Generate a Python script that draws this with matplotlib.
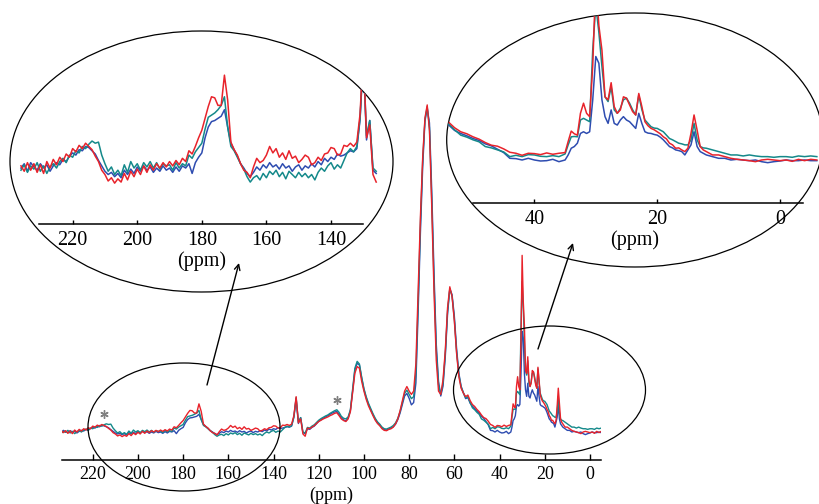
import numpy as np
import matplotlib
matplotlib.use("Agg")
import matplotlib.pyplot as plt
from matplotlib.patches import Ellipse

plt.rcParams["font.family"] = ["Liberation Serif", "DejaVu Serif"]

RED = "#e8232b"
TEAL = "#14898a"
BLUE = "#2e4cb0"

# ---------------------------------------------------------------------------
# Spectra (intensity, % of the 72 ppm peak)
# ---------------------------------------------------------------------------
PPM_A = list(range(236, 125, -1))          # 236 ... 126
PPM_B = list(range(125, 55, -1))           # 125 ... 56
PPM_C = [55, 54, 53, 52, 51, 50, 49, 48, 47, 46, 45, 44, 43, 42, 41, 40, 39, 38, 37, 36, 35,
         34.5, 34, 33.5, 33, 32.5, 32, 31.5, 31, 30.5, 30,
         29.5, 29, 28.5, 28, 27.5, 27, 26.5, 26, 25.5, 25,
         24.5, 24, 23.5, 23, 22.5, 22, 21.5, 21, 20.5, 20,
         19.5, 19, 18.5, 18, 17.5, 17, 16.5, 16, 15.5, 15,
         14.5, 14, 13.5, 13, 12.5,
         12, 11, 10, 9, 8, 7, 6, 5, 4, 3,
         2, 1, 0, -1, -2, -3, -4, -5, -6]

RED_A = [0.2, -0.3, 0.5, -0.2, 0.4, -0.4, 0.3, -0.5, 0.6, 0.0,
         0.8, 0.3, 1.0, 0.6, 1.3, 1.0, 1.8, 1.5, 2.1, 1.8,
         2.3, 2.0, 1.7, 1.1, 0.6, -0.2, -0.6, -1.2, -0.9, -1.4,
         -1.0, -1.3, -0.5, -1.1, -0.3, -0.8, -0.1, -0.6, 0.2, -0.4,
         0.3, -0.2, 0.4, 0.0, 0.5, 0.1, 0.6, 0.2, 0.7, 0.3,
         0.9, 0.6, 1.6, 1.3, 2.0, 2.8, 3.5, 4.6, 5.7, 6.6,
         6.5, 5.8, 5.8, 8.6, 6.3, 2.4, 1.7, 1.2, 0.4, -0.2,
         -0.4, -0.9, 0.1, 0.9, 0.5, 0.7, 1.2, 2.0, 1.4, 1.8,
         1.0, 1.4, 0.8, 1.6, 0.9, 1.1, 0.5, 0.8, 1.2, 1.0,
         0.3, 0.5, 1.0, 0.7, 1.3, 1.4, 1.9, 1.8, 1.2, 1.3,
         2.1, 2.0, 2.3, 2.0, 2.4, 5.0, 10.8, 2.8, 4.0, -0.6,
         -1.3]
TEAL_A = [-0.2, 0.3, -0.4, 0.2, -0.1, 0.5, -0.3, 0.2, -0.5, 0.1,
          0.4, 0.0, 0.6, 0.9, 0.5, 1.2, 1.0, 1.6, 1.4, 2.0,
          1.8, 2.2, 2.5, 2.3, 2.4, 1.2, 0.4, -0.3, 0.1, -0.6,
          -0.2, -0.7, 0.3, -0.4, 0.6, 0.0, 0.4, -0.2, 0.5, 0.1,
          0.6, 0.0, 0.5, -0.1, 0.4, 0.2, 0.3, -0.2, 0.5, 0.0,
          0.4, 0.2, 1.2, 0.9, 1.5, 1.9, 2.3, 3.6, 4.7, 4.9,
          5.1, 5.4, 5.8, 6.6, 3.8, 2.0, 1.6, 1.0, 0.4, -0.1,
          -0.8, -1.3, -0.9, -0.7, -1.1, -0.5, -0.9, -0.3, -0.6, -0.2,
          -0.8, -0.4, -1.0, -0.3, -0.6, -0.9, -0.4, -0.8, -0.5, -0.9,
          -0.6, -1.1, -0.4, 0.0, -0.3, 0.2, 0.5, -0.1, 0.3, 0.0,
          0.7, 1.4, 1.8, 1.5, 2.0, 4.6, 10.5, 3.0, 4.4, 0.0,
          -0.3]
BLUE_A = [0.0, 0.4, -0.3, 0.5, 0.1, -0.2, 0.4, 0.0, 0.3, -0.3,
          0.2, 0.5, 0.3, 0.8, 0.6, 1.1, 1.4, 1.2, 1.7, 1.6,
          2.0, 1.9, 1.6, 1.3, 0.7, 0.2, -0.3, -0.6, -0.4, -0.8,
          -0.5, -0.9, -0.2, -0.6, -0.1, -0.5, 0.1, -0.3, 0.2, -0.2,
          0.1, -0.4, 0.0, -0.3, 0.2, -0.2, 0.0, -0.4, 0.1, -0.3,
          0.2, 0.0, 0.4, -0.5, 0.5, 1.0, 1.4, 2.8, 3.8, 4.3,
          4.4, 4.6, 4.8, 5.4, 3.8, 2.3, 1.7, 1.1, 0.4, 0.0,
          -0.5, -0.8, -0.4, 0.1, -0.2, 0.3, 0.0, 0.5, 0.1, 0.3,
          -0.1, 0.4, 0.0, 0.2, -0.3, 0.1, 0.3, -0.2, 0.2, 0.0,
          0.4, 0.1, 0.6, 0.3, 0.9, 0.6, 1.0, 0.8, 1.3, 1.1,
          1.2, 1.4, 1.6, 1.5, 1.8, 4.5, 10.2, 2.6, 4.4, -0.2,
          -0.5]

RED_B = [1.2, 1.0, 1.5, 1.9, 2.6, 3.2, 3.6, 4.0, 4.3, 4.6,
         5.0, 5.3, 5.7, 5.9, 5.0, 4.0, 3.5, 3.2, 4.0, 6.2,
         12.0, 18.0, 20.0, 19.5, 15.5, 12.5, 10.0, 8.0, 6.5, 5.0,
         3.6, 2.6, 1.9, 1.0, 0.5, 0.4, 0.8, 1.0, 1.5, 2.5,
         4.0, 6.5, 9.5, 12.5, 13.9, 12.5, 11.5, 12.5, 21.0, 43.0,
         66.0, 84.0, 96.0, 100.0, 92.0, 69.0, 43.0, 22.0, 12.5, 11.5,
         16.0, 25.0, 38.0, 44.4, 41.4, 34.0, 24.0, 16.9, 13.4, 11.9]
TEAL_B = [1.4, 1.2, 1.8, 2.2, 2.9, 3.6, 4.1, 4.5, 4.9, 5.2,
          5.7, 6.1, 6.5, 6.8, 6.0, 4.8, 4.2, 4.0, 4.6, 6.8,
          13.0, 19.5, 21.6, 20.8, 16.8, 13.3, 10.8, 8.8, 7.2, 5.6,
          4.2, 3.1, 2.4, 1.5, 1.0, 0.9, 1.2, 1.5, 2.0, 2.8,
          4.2, 6.3, 9.0, 11.8, 12.8, 11.5, 10.2, 10.8, 18.0, 40.0,
          64.0, 83.0, 95.5, 99.5, 93.0, 71.0, 46.0, 25.0, 14.5, 11.5,
          15.0, 24.0, 37.0, 43.8, 41.5, 34.5, 24.5, 17.5, 13.8, 12.0]
BLUE_B = [1.0, 0.8, 1.4, 1.8, 2.5, 3.3, 3.7, 4.2, 4.6, 5.0,
          5.4, 5.8, 6.1, 6.3, 5.4, 4.3, 3.7, 3.4, 4.2, 6.5,
          12.5, 19.0, 21.0, 20.5, 16.5, 13.0, 10.5, 8.5, 6.8, 5.3,
          3.9, 2.8, 2.1, 1.3, 0.7, 0.6, 0.9, 1.2, 1.6, 2.4,
          3.8, 5.8, 8.4, 11.0, 11.8, 10.3, 8.3, 9.0, 15.0, 37.0,
          61.0, 81.0, 95.0, 99.0, 94.5, 74.0, 49.0, 27.0, 15.5, 11.0,
          14.0, 23.0, 36.0, 43.8, 42.0, 35.5, 25.5, 18.0, 14.0, 12.0]

RED_C = [10.8, 11.3, 9.6, 8.4, 7.8, 6.9, 6.2, 5.2, 4.4, 4.1, 3.3, 2.3, 2.0, 1.4, 2.0, 1.9, 1.6, 2.1, 1.7, 2.0, 2.2,
         5.5, 8.6, 7.8, 7.4, 13.9, 16.9, 13.9, 12.9, 28.0, 54.0,
         40.0, 32.7, 18.8, 17.9, 23.0, 15.9, 13.9, 14.9, 18.8, 18.4,
         16.4, 14.4, 13.4, 19.8, 15.9, 11.4, 10.2, 9.4, 9.0, 8.4,
         7.8, 6.9, 6.3, 5.0, 4.5, 3.5, 3.6, 3.0, 2.5, 3.5,
         7.9, 13.4, 8.9, 4.0, 3.0,
         2.5, 1.5, 1.5, 1.0, 0.5, 0.2, 0.0, -0.2, -0.5, 0.0,
         0.2, 0.0, -0.2, 0.0, -0.4, 0.2, -0.2, 0.2, 0.0]
TEAL_C = [10.5, 10.8, 9.0, 7.4, 6.8, 6.0, 5.4, 4.0, 3.6, 3.0, 2.4, 1.0, 1.4, 1.0, 1.6, 1.5, 1.1, 1.0, 1.3, 1.0, 1.8,
          4.5, 6.9, 7.0, 6.9, 11.9, 12.4, 11.9, 11.4, 32.7, 46.0,
          38.0, 27.8, 18.8, 17.4, 21.8, 14.9, 13.9, 15.4, 17.9, 18.4,
          16.9, 14.9, 13.4, 19.3, 15.0, 11.9, 10.9, 9.9, 9.5, 9.4,
          8.9, 8.4, 7.4, 6.4, 6.0, 5.5, 5.0, 4.8, 4.5, 4.5,
          6.0, 10.9, 6.0, 4.0, 3.6,
          3.5, 3.0, 2.5, 2.0, 1.5, 1.5, 1.2, 1.5, 1.2, 1.0,
          1.0, 0.8, 1.0, 1.0, 0.8, 1.2, 1.0, 1.2, 1.0]
BLUE_C = [10.2, 10.5, 8.8, 7.9, 7.2, 6.4, 5.8, 4.8, 4.2, 3.2, 2.2, 0.5, 0.4, 0.0, 0.5, 0.0, -0.3, -0.2, 0.2, -0.5, 0.0,
          1.5, 3.5, 4.0, 5.0, 7.9, 8.4, 7.9, 8.4, 17.9, 30.8,
          28.8, 17.9, 12.9, 10.9, 14.9, 10.9, 10.4, 11.9, 12.9, 11.9,
          11.4, 10.4, 9.4, 13.9, 10.9, 8.4, 8.0, 7.9, 7.6, 7.4,
          6.8, 6.0, 5.0, 4.0, 3.6, 3.0, 2.8, 2.5, 1.5, 3.0,
          4.5, 8.4, 4.0, 2.5, 2.0,
          1.5, 1.0, 0.5, 0.5, 0.0, 0.2, 0.0, -0.2, 0.0, -0.5,
          -0.8, -0.5, -0.3, 0.0, -0.2, -0.2, 0.0, -0.2, -0.2]

MAIN_TICKS = [220, 200, 180, 160, 140, 120, 100, 80, 60, 40, 20, 0]
LOW_TICKS = [220, 200, 180, 160, 140]
HIGH_TICKS = [40, 20, 0]
LOW_WINDOW = (125.5, 240)     # ppm range shown in the left zoom
HIGH_WINDOW = (-10, 55)       # ppm range shown in the right zoom
STARS = [(215, 5.5), (112, 9.8)]   # spinning side bands

ppm = np.array(PPM_A + PPM_B + PPM_C, dtype=float)
series = [
    (np.array(BLUE_A + BLUE_B + BLUE_C), BLUE),
    (np.array(TEAL_A + TEAL_B + TEAL_C), TEAL),
    (np.array(RED_A + RED_B + RED_C), RED),
]

# ---------------------------------------------------------------------------
# Layout helpers (pixel boxes -> figure fractions)
# ---------------------------------------------------------------------------
W, H = 820, 504


def box(x0, y0, x1, y1):
    return [x0 / W, 1 - y1 / H, (x1 - x0) / W, (y1 - y0) / H]


def only_bottom(ax):
    for side in ("left", "right", "top"):
        ax.spines[side].set_visible(False)
    ax.set_yticks([])


fig = plt.figure(figsize=(W / 100, H / 100), dpi=100)
fig.patch.set_facecolor("white")

# --- main spectrum ---
ax = fig.add_axes(box(62, 100, 601, 460))
ax.patch.set_visible(False)
for y, c in series:
    ax.plot(ppm, y, color=c, lw=1.0)
ax.set_xlim(233.6, -4.9)
ax.set_ylim(-8.56, 101.5)
only_bottom(ax)
ax.spines["bottom"].set_linewidth(1.1)
ax.set_xticks(MAIN_TICKS)
ax.tick_params(axis="x", direction="in", length=4, width=1, pad=4, labelsize=13)
ax.set_xlabel("(ppm)", fontsize=13, labelpad=3)
for sx, sy in STARS:
    ax.plot(sx, sy, marker=(6, 2, 0), ms=6, mew=1, color="0.5")


# --- insets inside ellipses ---
def inset(bbox, xlim, ylim, axis_y, bounds, ticks, window):
    a = fig.add_axes(box(*bbox))
    a.patch.set_visible(False)
    e = Ellipse((0.5, 0.5), 1, 1, transform=a.transAxes, fill=False,
                ec="black", lw=0.9, clip_on=False)
    a.add_patch(e)
    keep = (ppm >= window[0]) & (ppm <= window[1])
    for y, c in series:
        ln, = a.plot(ppm[keep], y[keep], color=c, lw=1.1)
        ln.set_clip_path(e)
    a.set_xlim(*xlim)
    a.set_ylim(*ylim)
    only_bottom(a)
    a.spines["bottom"].set_position(("data", axis_y))
    a.spines["bottom"].set_bounds(*bounds)
    a.spines["bottom"].set_linewidth(1.1)
    a.set_xticks(ticks)
    a.tick_params(axis="x", direction="in", length=3, width=1, pad=5, labelsize=14.5)
    a.set_xlabel("(ppm)", fontsize=14.5, labelpad=1)
    return a


inset((10, 31, 393, 292), (239.4, 120.8), (-11.48, 12.69), -5.19, (230.4, 130.1),
      LOW_TICKS, LOW_WINDOW)
inset((446.7, 13, 823, 267), (54.28, -7.0), (-31.85, 43.75), -12.89, (50, -3.7),
      HIGH_TICKS, HIGH_WINDOW)

# --- zoom marks and arrows ---
ov = fig.add_axes([0, 0, 1, 1])
ov.set_xlim(0, W)
ov.set_ylim(H, 0)
ov.axis("off")
ov.patch.set_visible(False)
for cx, cy in [(184, 427), (549.5, 390)]:
    ov.add_patch(Ellipse((cx, cy), 192, 128, fill=False, ec="black", lw=0.9))
for start, end in [((207, 385), (239, 263)), ((538, 349), (573, 243))]:
    ov.annotate("", xy=end, xytext=start,
                arrowprops=dict(arrowstyle="->", color="black", lw=1.0,
                                shrinkA=0, shrinkB=0))

fig.savefig("out.png", dpi=100)
